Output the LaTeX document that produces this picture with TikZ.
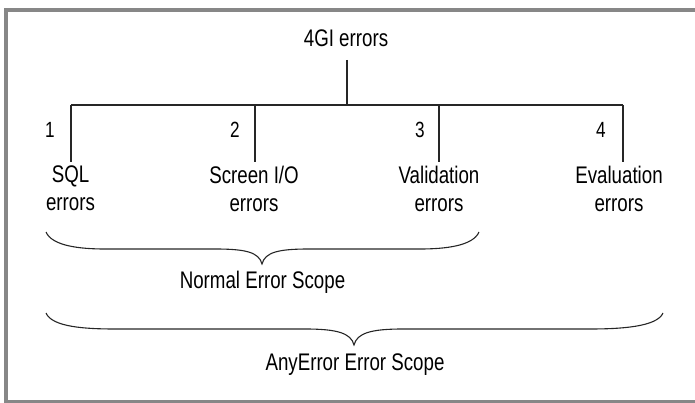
\documentclass[tikz,border=0pt]{standalone}
\usepackage{fontspec}
\setmainfont{Liberation Sans}[FakeStretch=0.78]
\begin{document}
\begin{tikzpicture}[x=1pt,y=-1pt,
  lbl/.style={inner sep=0pt,font=\fontsize{24}{28}\selectfont},
  num/.style={inner sep=0pt,anchor=base,font=\fontsize{22}{26}\selectfont},
  leaf/.style={lbl,anchor=north,align=center},
  conn/.style={draw=black!85,line width=1.1pt},
  brc/.style={draw=black!85,line width=1.1pt},
  frame/.style={draw=black!47,line width=3.6pt}]
\useasboundingbox (0,0) rectangle (695,403);
\draw[frame] (695,10) -- (6.2,10) -- (6.2,401.5) -- (695,401.5);

\node[lbl,anchor=base] (root) at (346,47) {4GI errors};
\coordinate (rootdown) at (347,60);
\coordinate (bus) at (347,105);
\coordinate (b1) at (71,105);
\coordinate (b2) at (255,105);
\coordinate (b3) at (439,105);
\coordinate (b4) at (623,105);

\node[leaf] (l1) at (70.5,166) {SQL\\errors};
\node[leaf] (l2) at (254,166) {Screen I/O\\errors};
\node[leaf] (l3) at (439,166) {Validation\\errors};
\node[leaf] (l4) at (619,166) {Evaluation\\errors};

\node[num] (n1) at (50,138) {1};
\node[num] (n2) at (235,138) {2};
\node[num] (n3) at (420,138) {3};
\node[num] (n4) at (601,138) {4};

\draw[conn] (rootdown) -- (bus);
\draw[conn] (b1) -- (b4);
\draw[conn] (b1) -- (71,162);
\draw[conn] (b2) -- (255,162);
\draw[conn] (b3) -- (439,162);
\draw[conn] (b4) -- (623,162);

% brace 1
\draw[brc] (46,232) .. controls (52,246) and (80,249) .. (105,249) -- (215,249)
  .. controls (245,249) and (259,252) .. (262,264)
  .. controls (265,252) and (279,249) .. (309,249) -- (420,249)
  .. controls (445,249) and (473,246) .. (479,232);
\node[lbl,anchor=base] (nes) at (262.5,288) {Normal Error Scope};

% brace 2
\draw[brc] (46,313) .. controls (52,327) and (85,329) .. (115,329) -- (305,329)
  .. controls (337,329) and (351,333) .. (354,345)
  .. controls (357,333) and (371,329) .. (403,329) -- (590,329)
  .. controls (620,329) and (657,327) .. (663,313);
\node[lbl,anchor=base] (aes) at (355,370) {AnyError Error Scope};
\end{tikzpicture}
\end{document}
